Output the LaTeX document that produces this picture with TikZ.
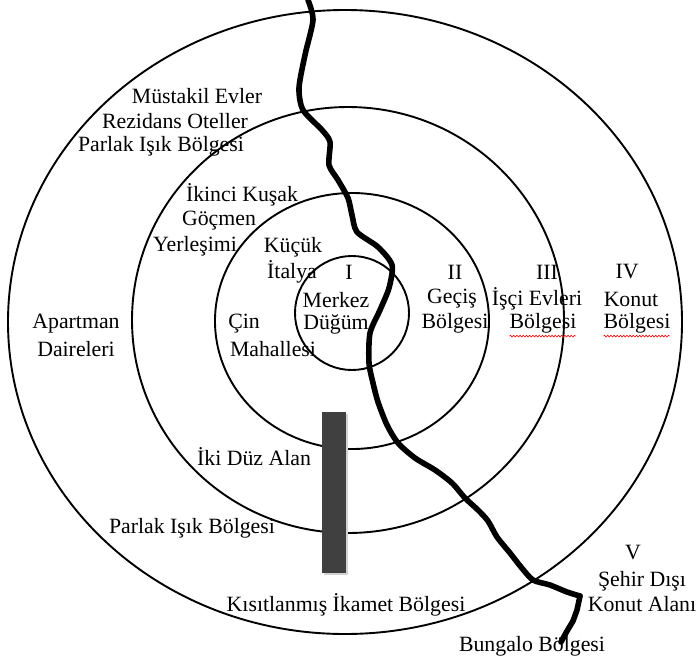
\documentclass[tikz,border=0pt]{standalone}
\usepackage{fontspec}
\setmainfont{Liberation Serif}
\usetikzlibrary{decorations.pathmorphing}
\begin{document}
\begin{tikzpicture}[x=1pt,y=-1pt,
  ring/.style={draw=black,line width=1.9pt},
  road/.style={draw=black,line width=5.6pt,line cap=round,line join=round},
  lbl/.style={inner sep=0pt,font=\fontsize{21.8}{25}\selectfont},
  spell/.style={draw=red,line width=0.6pt,decorate,decoration={snake,segment length=3.2pt,amplitude=0.9pt}}]
\useasboundingbox (0,0) rectangle (698,659);
% rings
\draw[ring] (345,322) ellipse [x radius=337,y radius=312];
\draw[ring] (348,320) ellipse [x radius=216,y radius=213];
\draw[ring] (352,321) ellipse [x radius=137,y radius=128];
\draw[ring] (352,313) ellipse [x radius=57,y radius=57];
% bar
\fill[gray!35] (324,414) rectangle (348,575);
\fill[black!75] (322,412) rectangle (346,573);
% road
\draw[road] plot[smooth,tension=0.45] coordinates {
 (308,0) (313,20) (305,55) (299,88) (303,110) (322,130) (330,142) (329,165)
 (338,180) (348,198) (352,215) (357,232) (378,247) (392,265) (389,288)
 (380,310) (370,333) (369,363) (373,383) (378,402) (387,425) (398,443)
 (415,458) (435,470) (452,483) (465,498) (478,510) (488,521) (497,537)
 (510,553) (521,567) (533,580) (550,585) (567,592) (580,596)};
\draw[road] (580,596) -- (577,610) -- (573,621) -- (567,631) -- (561,642);
% labels
\node[lbl] (me) at (197,96) {Müstakil Evler};
\node[lbl] (ro) at (175,121) {Rezidans Oteller};
\node[lbl] (pib1) at (161,146) {Parlak Işık Bölgesi};
\node[lbl] (ik) at (242,195) {İkinci Kuşak};
\node[lbl] (go) at (219,221) {Göçmen};
\node[lbl] (ye) at (195,246) {Yerleşimi};
\node[lbl] (ku) at (293,247) {Küçük};
\node[lbl] (it) at (292,272) {İtalya};
\node[lbl] (n1) at (349,272) {I};
\node[lbl] (mk) at (336,300) {Merkez};
\node[lbl] (dg) at (336,324) {Düğüm};
\node[lbl] (ci) at (244,324) {Çin};
\node[lbl] (mh) at (273,349) {Mahallesi};
\node[lbl] (n2) at (455,272) {II};
\node[lbl] (gc) at (452,299) {Geçiş};
\node[lbl] (bg2) at (455,323) {Bölgesi};
\node[lbl] (n3) at (547,272) {III};
\node[lbl] (ie) at (537,299) {İşçi Evleri};
\node[lbl] (bg3) at (543,323) {Bölgesi};
\node[lbl] (n4) at (627,272) {IV};
\node[lbl] (ko) at (631,299) {Konut};
\node[lbl] (bg4) at (637,323) {Bölgesi};
\node[lbl] (ap) at (76,324) {Apartman};
\node[lbl] (da) at (76,349) {Daireleri};
\node[lbl] (idz) at (254,457) {İki Düz Alan};
\node[lbl] (pib2) at (192,528) {Parlak Işık Bölgesi};
\node[lbl] (kib) at (346,605) {Kısıtlanmış İkamet Bölgesi};
\node[lbl] (n5) at (633,553) {V};
\node[lbl] (sd) at (642,581) {Şehir Dışı};
\node[lbl] (ka) at (642,604) {Konut Alanı};
\node[lbl] (bb) at (532,646) {Bungalo Bölgesi};
% spell-check underlines
\draw[spell] (bg3.south west) ++(0,3) -- ++(66,0);
\draw[spell] (bg4.south west) ++(0,3) -- ++(66,0);
\end{tikzpicture}
\end{document}
